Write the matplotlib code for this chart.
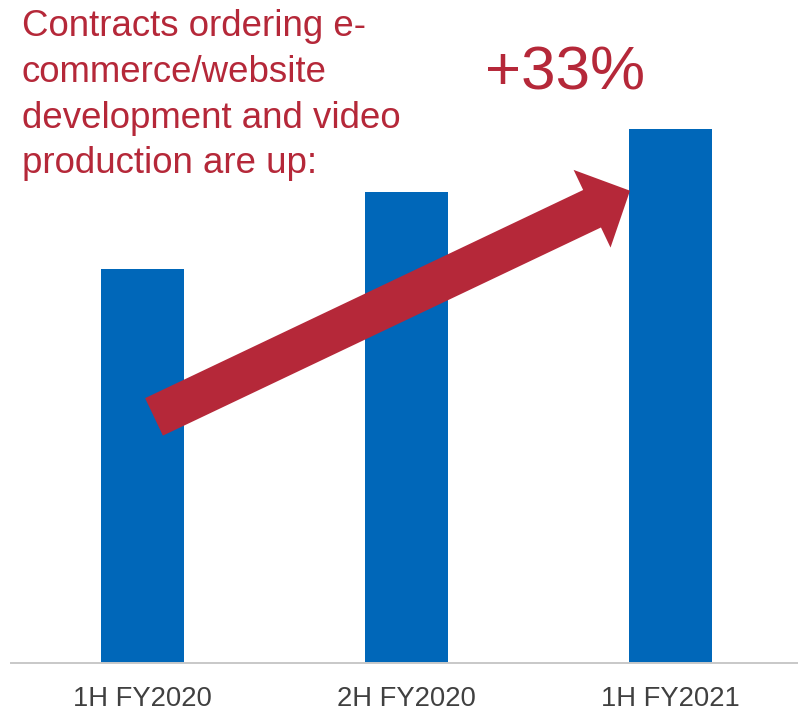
import matplotlib
matplotlib.use("Agg")
import matplotlib.pyplot as plt
from matplotlib.patches import FancyArrow
from matplotlib.transforms import IdentityTransform

plt.rcParams["font.family"] = ["Liberation Sans", "DejaVu Sans"]

# Data
periods = ["1H FY2020", "2H FY2020", "1H FY2021"]
contracts = [100.0, 119.3, 135.4]
headline = ["Contracts ordering e-",
            "commerce/website",
            "development and video",
            "production are up:"]
growth_label = "+33%"

RED = "#B52839"
BLUE = "#0067B9"
W, H, DPI = 798, 711, 100

fig = plt.figure(figsize=(W / DPI, H / DPI), dpi=DPI)
fig.patch.set_facecolor("white")

base_px = 663.3  # axis line, pixels from top
ax = fig.add_axes([11 / W, (H - base_px) / H, (W - 11) / W, base_px / H])
ax.bar(range(len(periods)), contracts, width=0.315, color=BLUE, zorder=2)
ax.set_xlim(-0.5, 2.484)
ax.set_ylim(0, 100 * base_px / 394.7)
ax.set_xticks(range(len(periods)))
ax.set_xticklabels(periods, fontsize=19.7, color="#404040")
ax.tick_params(axis="x", length=0, pad=16.5)
ax.set_yticks([])
for side in ("left", "right", "top"):
    ax.spines[side].set_visible(False)
ax.spines["bottom"].set_color("#C8C8C8")
ax.spines["bottom"].set_linewidth(1.4)
ax.patch.set_alpha(0)

# Headline text, one line per baseline
baselines = [36.0, 82.0, 128.0, 173.3]
for line, yb in zip(headline, baselines):
    fig.text(21.7 / W, (H - yb) / H, line, fontsize=26.4, color=RED,
             ha="left", va="baseline")

fig.text(485 / W, (H - 90) / H, growth_label, fontsize=44.6, color=RED,
         ha="left", va="baseline")

# Growth arrow (pixel coordinates, origin bottom-left)
tail = (154.0, H - 416.9)
tip = (630.0, H - 190.7)
arrow = FancyArrow(tail[0], tail[1], tip[0] - tail[0], tip[1] - tail[1],
                   width=41.5, head_width=86, head_length=42,
                   length_includes_head=True, color=RED, linewidth=0,
                   transform=IdentityTransform(), zorder=5)
fig.add_artist(arrow)

fig.savefig("out.png", dpi=DPI, facecolor="white")
